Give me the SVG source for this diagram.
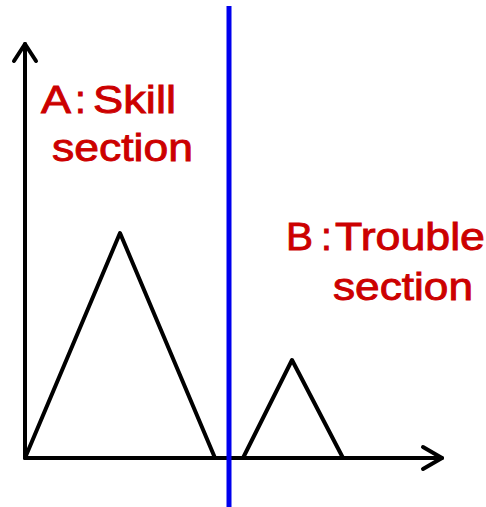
<svg xmlns="http://www.w3.org/2000/svg" width="486" height="507" viewBox="0 0 486 507">
<style>
.ln{fill:none;stroke:#000;stroke-width:4;stroke-linecap:round;stroke-linejoin:round}
.lb{font-family:"Liberation Sans",Arial,sans-serif;font-size:39px;fill:#cc0000;stroke:#cc0000;stroke-width:0.9}
</style>
<rect width="486" height="507" fill="#fff"/>
<g id="axes">
<polyline class="ln" points="25,458 25,44"/>
<polyline class="ln" points="14,61 25,44 36,61"/>
<polyline class="ln" points="25,458 442,458"/>
<polyline class="ln" points="423,447 442,458 423,469"/>
</g>
<g id="skill-peak"><polyline class="ln" points="25,458 120,233 215,458"/></g>
<g id="trouble-peak"><polyline class="ln" points="243,458 292,360 343,458"/></g>
<g id="divider"><line x1="229" y1="6" x2="229" y2="507" stroke="#0000ee" stroke-width="5"/></g>
<g id="label-a">
<text class="lb" x="41" y="113" textLength="30" lengthAdjust="spacingAndGlyphs">A</text>
<text class="lb" x="75" y="113">:</text>
<text class="lb" x="93" y="113" textLength="83" lengthAdjust="spacingAndGlyphs">Skill</text>
<text class="lb" x="52" y="161" textLength="141" lengthAdjust="spacingAndGlyphs">section</text>
</g>
<g id="label-b">
<text class="lb" x="286" y="250" textLength="27" lengthAdjust="spacingAndGlyphs">B</text>
<text class="lb" x="321" y="250">:</text>
<text class="lb" x="335" y="250" textLength="150" lengthAdjust="spacingAndGlyphs">Trouble</text>
<text class="lb" x="333" y="300" textLength="140" lengthAdjust="spacingAndGlyphs">section</text>
</g>
</svg>
